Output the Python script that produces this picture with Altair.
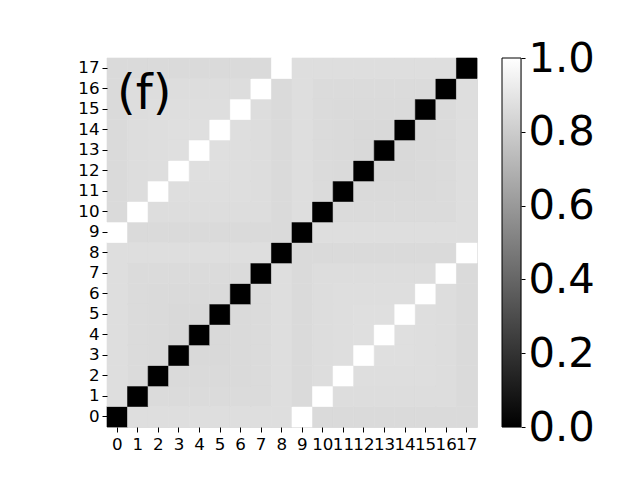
import altair as alt
import pandas as pd

# 18x18 matrix, rows indexed by y (0 at bottom), columns by x
matrix = [
    [0.0, 0.87, 0.87, 0.87, 0.87, 0.87, 0.87, 0.87, 0.87, 1.0, 0.855, 0.855, 0.855, 0.855, 0.855, 0.855, 0.855, 0.855],
    [0.87, 0.0, 0.86, 0.86, 0.86, 0.86, 0.86, 0.86, 0.87, 0.855, 1.0, 0.865, 0.865, 0.865, 0.865, 0.865, 0.865, 0.855],
    [0.87, 0.86, 0.0, 0.855, 0.855, 0.855, 0.855, 0.86, 0.87, 0.855, 0.865, 1.0, 0.87, 0.87, 0.87, 0.87, 0.865, 0.855],
    [0.87, 0.86, 0.855, 0.0, 0.85, 0.85, 0.855, 0.86, 0.87, 0.855, 0.865, 0.87, 1.0, 0.875, 0.875, 0.87, 0.865, 0.855],
    [0.87, 0.86, 0.855, 0.85, 0.0, 0.85, 0.855, 0.86, 0.87, 0.855, 0.865, 0.87, 0.875, 1.0, 0.875, 0.87, 0.865, 0.855],
    [0.87, 0.86, 0.855, 0.85, 0.85, 0.0, 0.855, 0.86, 0.87, 0.855, 0.865, 0.87, 0.875, 0.875, 1.0, 0.87, 0.865, 0.855],
    [0.87, 0.86, 0.855, 0.855, 0.855, 0.855, 0.0, 0.86, 0.87, 0.855, 0.865, 0.87, 0.87, 0.87, 0.87, 1.0, 0.865, 0.855],
    [0.87, 0.86, 0.86, 0.86, 0.86, 0.86, 0.86, 0.0, 0.87, 0.855, 0.865, 0.865, 0.865, 0.865, 0.865, 0.865, 1.0, 0.855],
    [0.87, 0.87, 0.87, 0.87, 0.87, 0.87, 0.87, 0.87, 0.0, 0.855, 0.855, 0.855, 0.855, 0.855, 0.855, 0.855, 0.855, 1.0],
    [1.0, 0.855, 0.855, 0.855, 0.855, 0.855, 0.855, 0.855, 0.855, 0.0, 0.87, 0.87, 0.87, 0.87, 0.87, 0.87, 0.87, 0.87],
    [0.855, 1.0, 0.865, 0.865, 0.865, 0.865, 0.865, 0.865, 0.855, 0.87, 0.0, 0.86, 0.86, 0.86, 0.86, 0.86, 0.86, 0.87],
    [0.855, 0.865, 1.0, 0.87, 0.87, 0.87, 0.87, 0.865, 0.855, 0.87, 0.86, 0.0, 0.855, 0.855, 0.855, 0.855, 0.86, 0.87],
    [0.855, 0.865, 0.87, 1.0, 0.875, 0.875, 0.87, 0.865, 0.855, 0.87, 0.86, 0.855, 0.0, 0.85, 0.85, 0.855, 0.86, 0.87],
    [0.855, 0.865, 0.87, 0.875, 1.0, 0.875, 0.87, 0.865, 0.855, 0.87, 0.86, 0.855, 0.85, 0.0, 0.85, 0.855, 0.86, 0.87],
    [0.855, 0.865, 0.87, 0.875, 0.875, 1.0, 0.87, 0.865, 0.855, 0.87, 0.86, 0.855, 0.85, 0.85, 0.0, 0.855, 0.86, 0.87],
    [0.855, 0.865, 0.87, 0.87, 0.87, 0.87, 1.0, 0.865, 0.855, 0.87, 0.86, 0.855, 0.855, 0.855, 0.855, 0.0, 0.86, 0.87],
    [0.855, 0.865, 0.865, 0.865, 0.865, 0.865, 0.865, 1.0, 0.855, 0.87, 0.86, 0.86, 0.86, 0.86, 0.86, 0.86, 0.0, 0.87],
    [0.855, 0.855, 0.855, 0.855, 0.855, 0.855, 0.855, 0.855, 1.0, 0.87, 0.87, 0.87, 0.87, 0.87, 0.87, 0.87, 0.87, 0.0],
]
indices = list(range(18))
colorbar_ticks = [0.0, 0.2, 0.4, 0.6, 0.8, 1.0]
colorbar_range = {"lo": [0.0], "hi": [1.0]}
panel_label = "(f)"

rows = []
for yi, row in enumerate(matrix):
    for xi, v in enumerate(row):
        rows.append({"x": xi, "y": yi, "v": v})
df = pd.DataFrame(rows)

FONT = "DejaVu Sans"
gray_scale = alt.Scale(domain=[0, 1], range=["#000000", "#ffffff"], interpolate="rgb")

heat = alt.Chart(df).mark_rect(strokeWidth=0.6).encode(
    x=alt.X("x:O", sort=indices, title=None,
            axis=alt.Axis(labelAngle=0, labelFontSize=16.7, labelOverlap=False,
                          tickSize=5, tickColor="black", labelColor="black",
                          domain=False, labelPadding=4, labelFont=FONT)),
    y=alt.Y("y:O", sort=indices[::-1], title=None,
            axis=alt.Axis(labelFontSize=16.7, tickSize=5, tickColor="black",
                          labelColor="black", domain=False, labelPadding=3,
                          labelFont=FONT)),
    color=alt.Color("v:Q", scale=gray_scale, legend=None),
    stroke=alt.Stroke("v:Q", scale=gray_scale, legend=None),
)

label = alt.Chart(pd.DataFrame({"t": [panel_label]})).mark_text(
    fontSize=48, font=FONT, align="left", baseline="alphabetic", color="black"
).encode(x=alt.value(10), y=alt.value(51), text="t:N")

left = alt.layer(heat, label).properties(width=370, height=369)

gradient = alt.Gradient(
    gradient="linear",
    stops=[alt.GradientStop(color="black", offset=0), alt.GradientStop(color="white", offset=1)],
    x1=0, x2=0, y1=1, y2=0,
)

cbar = alt.Chart(pd.DataFrame(colorbar_range)).mark_rect(
    color=gradient, stroke="black", strokeWidth=1
).encode(
    x=alt.value(0), x2=alt.value(19),
    y=alt.Y("lo:Q", scale=alt.Scale(domain=[0, 1], nice=False, zero=False), title=None,
            axis=alt.Axis(orient="right", values=colorbar_ticks, format=".1f",
                          labelFontSize=41.7, labelFont=FONT, labelColor="black",
                          tickSize=4, tickColor="black", labelPadding=3,
                          domain=False, grid=False, labelFlush=False,
                          labelBaseline="middle")),
    y2="hi:Q",
).properties(width=19, height=369)

chart = alt.hconcat(left, cbar, spacing=25, bounds="flush").properties(
    padding={"left": 69, "top": 29, "right": 5, "bottom": 5},
).configure_view(stroke="black", strokeWidth=1).configure(background="white")

chart.save("out.html", embed_options={"renderer": "svg", "actions": False})
